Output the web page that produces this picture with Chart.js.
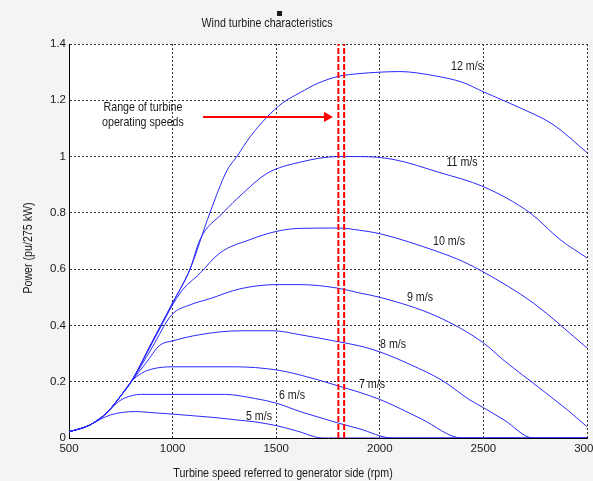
<!DOCTYPE html>
<html>
<head>
<meta charset="utf-8">
<script src="https://cdn.jsdelivr.net/npm/chart.js@4.4.0/dist/chart.umd.min.js"></script>
<style>
  html, body { margin: 0; padding: 0; background: #f4f4f4; }
  #wrap { width: 593px; height: 481px; }
</style>
</head>
<body>
<div id="wrap"><canvas id="turbineChart" width="593" height="481"></canvas></div>
<script>
// ===================
// Datos
// ===================
const xTickLabels = ['500', '1000', '1500', '2000', '2500', '3000'];
const yTickLabels = ['0', '0.2', '0.4', '0.6', '0.8', '1', '1.2', '1.4'];

const rpm5 = [500, 600, 650, 700, 760, 820, 900, 1000, 1100, 1200, 1300, 1400, 1500, 1600, 1726, 3000];
const pow5 = [0.022, 0.046, 0.066, 0.082, 0.091, 0.094, 0.09, 0.085, 0.079, 0.073, 0.065, 0.057, 0.044, 0.025, 0, 0];

const rpm6 = [500, 600, 683, 740, 800, 850, 1000, 1250, 1400, 1500, 1615, 1700, 1800, 1900, 2060, 3000];
const pow6 = [0.022, 0.046, 0.09, 0.13, 0.15, 0.155, 0.155, 0.155, 0.14, 0.124, 0.094, 0.075, 0.053, 0.033, 0, 0];

const rpm7 = [500, 600, 683, 750, 800, 850, 900, 1000, 1300, 1500, 1615, 1800, 2000, 2200, 2397, 3000];
const pow7 = [0.022, 0.046, 0.09, 0.15, 0.2, 0.23, 0.245, 0.253, 0.253, 0.242, 0.224, 0.185, 0.137, 0.068, 0, 0];

const rpm8 = [500, 600, 683, 750, 800, 870, 939, 1000, 1130, 1325, 1485, 1615, 1800, 1904, 2000, 2150, 2300, 2435, 2500, 2600, 2740, 3000];
const pow8 = [0.022, 0.046, 0.09, 0.15, 0.2, 0.265, 0.33, 0.345, 0.367, 0.381, 0.381, 0.367, 0.342, 0.327, 0.306, 0.26, 0.205, 0.135, 0.108, 0.064, 0, 0];

const rpm9 = [500, 600, 683, 750, 800, 900, 996, 1084, 1180, 1325, 1500, 1615, 1793, 1904, 2000, 2276, 2500, 2595, 2740, 2900, 3000];
const pow9 = [0.022, 0.046, 0.09, 0.15, 0.2, 0.32, 0.438, 0.473, 0.495, 0.53, 0.545, 0.545, 0.533, 0.515, 0.5, 0.432, 0.338, 0.278, 0.195, 0.103, 0.04];

const rpm10 = [500, 600, 683, 750, 800, 900, 1036, 1132, 1229, 1374, 1500, 1615, 1800, 1904, 2000, 2276, 2402, 2500, 2740, 3000];
const pow10 = [0.022, 0.046, 0.09, 0.15, 0.2, 0.335, 0.515, 0.585, 0.658, 0.705, 0.734, 0.745, 0.746, 0.738, 0.726, 0.663, 0.627, 0.59, 0.48, 0.32];

const rpm11 = [500, 600, 683, 750, 800, 900, 1000, 1084, 1132, 1243, 1340, 1455, 1615, 1800, 1904, 2064, 2290, 2500, 2725, 2870, 3000];
const pow11 = [0.022, 0.046, 0.09, 0.15, 0.2, 0.34, 0.48, 0.6, 0.705, 0.8, 0.87, 0.94, 0.98, 1.0, 1.0, 0.99, 0.943, 0.893, 0.8, 0.705, 0.64];

const rpm12 = [500, 600, 683, 750, 800, 900, 1000, 1084, 1180, 1262, 1310, 1374, 1455, 1530, 1615, 1700, 1800, 1904, 2000, 2097, 2257, 2402, 2500, 2662, 2836, 3000];
const pow12 = [0.022, 0.046, 0.09, 0.15, 0.2, 0.34, 0.48, 0.6, 0.8, 0.95, 1.0, 1.07, 1.14, 1.19, 1.227, 1.26, 1.285, 1.295, 1.3, 1.302, 1.288, 1.263, 1.23, 1.178, 1.114, 1.014];

// Etiquetas de velocidad del viento (posición en unidades de datos)
const windLabels = ['12 m/s', '11 m/s', '10 m/s', '9 m/s', '8 m/s', '7 m/s', '6 m/s', '5 m/s'];
const windLabelRpm = [2421, 2397, 2334, 2194, 2064, 1962, 1576, 1417];
const windLabelPow = [1.32, 0.979, 0.698, 0.498, 0.331, 0.189, 0.153, 0.078];

// Rango de velocidades de operación
const rangeRpm = [1800, 1828];
const rangeText = ['Range of turbine', 'operating speeds'];
const rangeTextRpm = 857;
const rangeTextPow = [1.174, 1.121];
const arrowRpm = [1147, 1745];
const arrowPow = [1.141, 1.141];

const FONT = "'Liberation Sans', Arial, sans-serif";
const TEXT_COLOR = '#1a1a1a';
const BLUE = '#2a2aff';
const NARROW = 0.82;   // compresión horizontal para imitar la fuente estrecha

function toPoints(xs, ys) {
    return xs.map((x, i) => ({ x: x, y: ys[i] }));
}

const curves = [
    [rpm5, pow5], [rpm6, pow6], [rpm7, pow7], [rpm8, pow8],
    [rpm9, pow9], [rpm10, pow10], [rpm11, pow11], [rpm12, pow12]
];

const datasets = [];

// Líneas rojas discontinuas (encima de todo)
rangeRpm.forEach(r => {
    datasets.push({
        data: [{ x: r, y: 0 }, { x: r, y: 1.4 }],
        borderColor: '#ff0000',
        borderWidth: 2,
        borderDash: [6, 2],
        pointRadius: 0,
        order: 0
    });
});

// Flecha
datasets.push({
    data: toPoints(arrowRpm, arrowPow),
    borderColor: '#ff0000',
    backgroundColor: '#ff0000',
    borderWidth: 2,
    pointRadius: [0, 6],
    pointStyle: 'triangle',
    pointRotation: [0, 90],
    pointBorderWidth: 0,
    order: 0
});

// Curvas de potencia
curves.forEach(c => {
    datasets.push({
        data: toPoints(c[0], c[1]),
        borderColor: BLUE,
        borderWidth: 1,
        pointRadius: 0,
        cubicInterpolationMode: 'monotone',
        order: 1
    });
});

function narrowText(ctx, text, x, y, rot) {
    ctx.save();
    ctx.translate(x, y);
    if (rot) ctx.rotate(rot);
    ctx.scale(NARROW, 1);
    ctx.fillText(text, 0, 0);
    ctx.restore();
}

// ===================
// Plugin: fondo y textos
// ===================
const decorPlugin = {
    id: 'decor',
    beforeDraw(chart) {
        const { ctx, chartArea: a } = chart;
        ctx.save();
        ctx.fillStyle = '#f4f4f4';
        ctx.fillRect(0, 0, chart.width, chart.height);
        ctx.fillStyle = '#ffffff';
        ctx.fillRect(a.left, a.top, a.right - a.left, a.bottom - a.top);
        ctx.restore();
    },
    afterDraw(chart) {
        const { ctx } = chart;
        const xs = chart.scales.x;
        const ys = chart.scales.y;
        ctx.save();
        ctx.fillStyle = TEXT_COLOR;
        ctx.font = '13px ' + FONT;
        ctx.textAlign = 'center';
        ctx.textBaseline = 'middle';

        // Titulo
        narrowText(ctx, 'Wind turbine characteristics', 267, 23);
        ctx.fillRect(277, 11, 5, 5);

        // Etiquetas de ejes
        narrowText(ctx, 'Turbine speed referred to generator side (rpm)', 283, 473);
        narrowText(ctx, 'Power (pu/275 kW)', 28, 248, -Math.PI / 2);

        // Velocidades del viento
        windLabels.forEach((t, i) => {
            narrowText(ctx, t, xs.getPixelForValue(windLabelRpm[i]), ys.getPixelForValue(windLabelPow[i]));
        });

        // Texto del rango
        rangeText.forEach((t, i) => {
            narrowText(ctx, t, xs.getPixelForValue(rangeTextRpm), ys.getPixelForValue(rangeTextPow[i]));
        });
        ctx.restore();
    }
};

const ctx = document.getElementById('turbineChart').getContext('2d');
const chart = new Chart(ctx, {
    type: 'line',
    data: { datasets: datasets },
    plugins: [decorPlugin],
    options: {
        responsive: false,
        animation: false,
        layout: { padding: { top: 44, left: 0, right: 6, bottom: 0 } },
        plugins: {
            legend: { display: false },
            tooltip: { enabled: false },
            title: { display: false }
        },
        scales: {
            x: {
                type: 'linear',
                min: 500,
                max: 3000,
                grid: { color: '#333', lineWidth: 1, drawTicks: false },
                border: { display: true, color: '#000', width: 1, dash: [2, 2] },
                ticks: {
                    stepSize: 500,
                    padding: 4,
                    color: TEXT_COLOR,
                    font: { family: FONT, size: 11.5 },
                    maxRotation: 0,
                    callback: (v, i) => xTickLabels[i]
                },
                afterFit(scale) {
                    scale.height = 43;
                    scale.paddingLeft = 0;
                    scale.paddingRight = 0;
                }
            },
            y: {
                min: 0,
                max: 1.4,
                grid: { color: '#333', lineWidth: 1, drawTicks: false },
                border: { display: true, color: '#000', width: 1, dash: [2, 2] },
                ticks: {
                    stepSize: 0.2,
                    padding: 3,
                    color: TEXT_COLOR,
                    font: { family: FONT, size: 11.5 },
                    callback: (v, i) => yTickLabels[i]
                },
                afterFit(scale) {
                    scale.width = 69;
                    scale.paddingTop = 0;
                    scale.paddingBottom = 0;
                }
            }
        }
    }
});
</script>
</body>
</html>
